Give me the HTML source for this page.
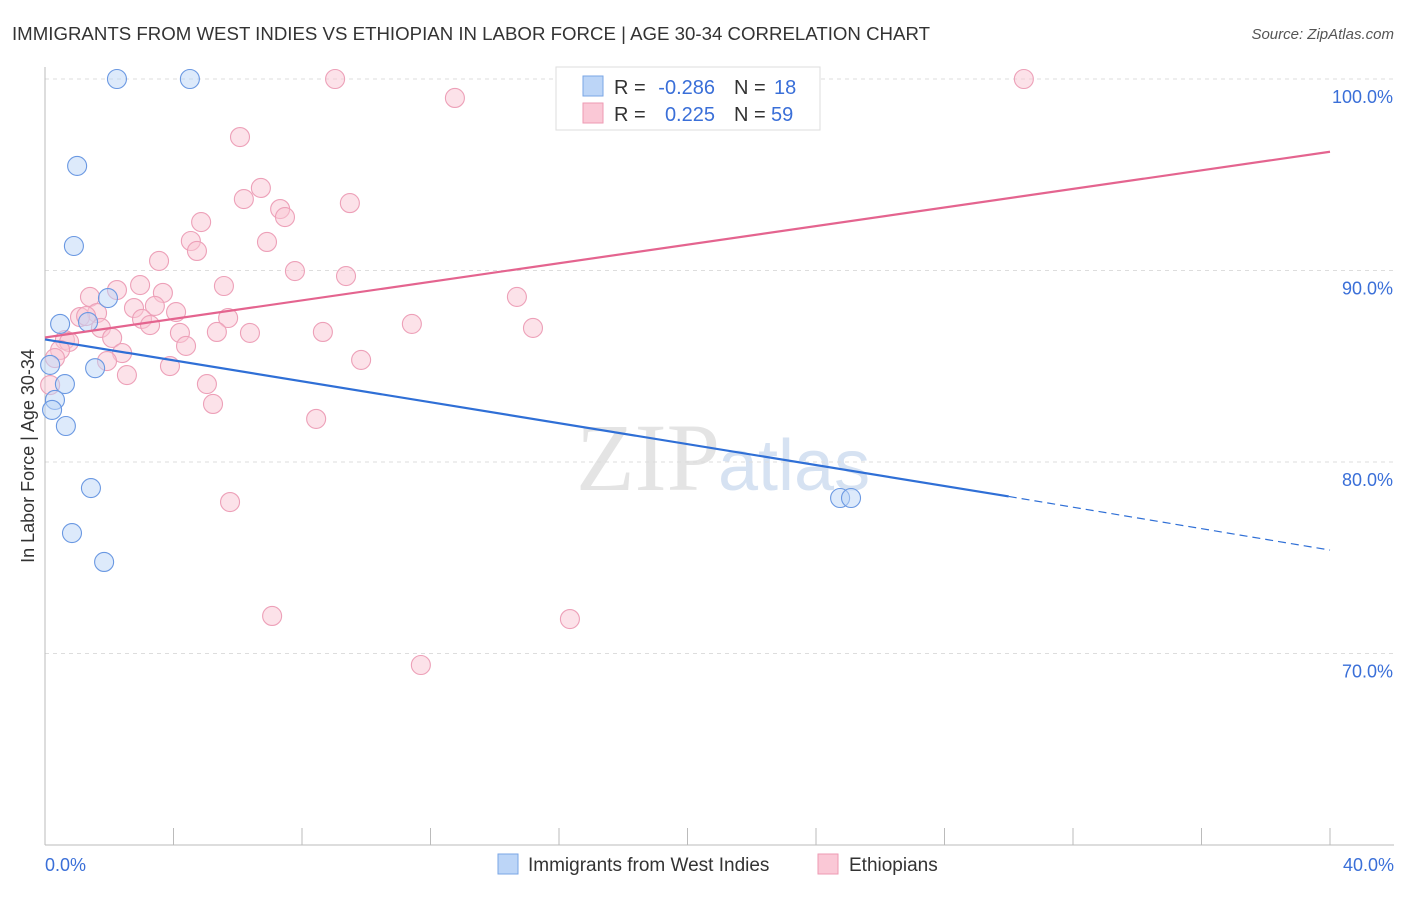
<!DOCTYPE html>
<html><head><meta charset="utf-8"><style>
body{margin:0;background:#fff;font-family:"Liberation Sans",sans-serif}
</style></head><body>
<svg width="1406" height="892" xmlns="http://www.w3.org/2000/svg" font-family="Liberation Sans, sans-serif">
<text x="12" y="40" font-size="18" fill="#333" textLength="918" lengthAdjust="spacingAndGlyphs">IMMIGRANTS FROM WEST INDIES VS ETHIOPIAN IN LABOR FORCE | AGE 30-34 CORRELATION CHART</text>
<text x="1394" y="39" font-size="15" fill="#555" text-anchor="end" font-style="italic">Source: ZipAtlas.com</text>
<text x="720" y="490" font-size="96" fill="#e4e4e4" text-anchor="end" font-family="Liberation Serif, serif">ZIP</text>
<text x="718" y="490" font-size="72" fill="#d6e2f2">atlas</text>
<g id="grid"></g><g id="axes"></g><g id="marks"></g>
<text x="34" y="456" font-size="18" fill="#333" text-anchor="middle" transform="rotate(-90 34 456)">In Labor Force | Age 30-34</text>
<g font-size="20">
<rect x="556" y="67" width="264" height="63" fill="#fff" stroke="#ddd"/>
<rect x="583" y="76" width="20" height="20" fill="#bcd5f7" stroke="#7aa6e6"/>
<rect x="583" y="103" width="20" height="20" fill="#fac8d6" stroke="#ee9ab3"/>
<text x="614" y="94" fill="#333">R =</text>
<text x="715" y="94" fill="#3a6fd8" text-anchor="end">-0.286</text>
<text x="734" y="94" fill="#333">N =</text>
<text x="774" y="94" fill="#3a6fd8">18</text>
<text x="614" y="121" fill="#333">R =</text>
<text x="715" y="121" fill="#3a6fd8" text-anchor="end">0.225</text>
<text x="734" y="121" fill="#333">N =</text>
<text x="771" y="121" fill="#3a6fd8">59</text>
</g>
<g>
<rect x="498" y="854" width="20" height="20" fill="#bcd5f7" stroke="#7aa6e6"/>
<text x="528" y="871" font-size="19" fill="#333">Immigrants from West Indies</text>
<rect x="818" y="854" width="20" height="20" fill="#fac8d6" stroke="#ee9ab3"/>
<text x="849" y="871" font-size="19" fill="#333">Ethiopians</text>
</g>
</svg>
<script>
const blueX=[2.24,4.51,1.0,0.9,1.96,0.47,1.34,1.56,0.16,0.62,0.31,0.22,0.65,1.43,0.84,1.84,24.75,25.09];
const blueY=[100,100,95.46,91.28,88.56,87.21,87.31,84.9,85.07,84.07,83.24,82.72,81.88,78.64,76.29,74.78,78.12,78.12];
const pinkX=[9.03,30.47,20.67,12.76,6.07,6.72,6.19,9.49,7.32,7.47,4.86,4.54,6.91,4.73,3.55,7.78,9.37,14.69,2.96,2.24,1.40,5.57,3.67,2.77,3.42,4.08,1.62,1.09,1.28,3.02,3.27,5.70,11.42,15.19,1.74,8.65,4.20,5.35,6.38,2.09,0.62,0.75,0.47,4.39,2.40,1.93,9.84,3.89,0.31,2.55,5.04,5.23,8.44,5.76,7.07,16.34,11.70,0.16];
const pinkY=[100,100,100,99.01,96.97,94.31,93.73,93.52,93.21,92.79,92.53,91.54,91.49,91.02,90.50,89.97,89.71,88.62,89.24,88.98,88.62,89.19,88.83,88.04,88.15,87.83,87.78,87.57,87.62,87.47,87.15,87.52,87.21,87.00,87.00,86.79,86.74,86.79,86.74,86.48,86.37,86.27,85.85,86.06,85.69,85.27,85.33,85.01,85.43,84.54,84.07,83.03,82.25,77.91,71.96,71.80,69.40,84.02];
const yTicks=[100,90,80,70];
const yTickLabels=["100.0%","90.0%","80.0%","70.0%"];
const xTickLabels=["0.0%","40.0%"];
const blueTrend=[[0,86.4],[30,78.2],[40,75.4]];
const pinkTrend=[[0,86.5],[40,96.2]];
const X=v=>45+v/40*1285, Y=v=>79+(100-v)*19.15;
const NS="http://www.w3.org/2000/svg";
function mk(t,a,p){const e=document.createElementNS(NS,t);for(const k in a)e.setAttribute(k,a[k]);p.appendChild(e);return e;}
const grid=document.getElementById('grid'),axes=document.getElementById('axes'),marks=document.getElementById('marks');
yTicks.forEach((t,i)=>{
 const l=mk('line',{x1:45,x2:1394,y1:Y(t),y2:Y(t),stroke:'#ddd','stroke-dasharray':'4,4'},grid);
 
 
 const tx=mk('text',{x:1393,y:Y(t)+24,'font-size':18,fill:'#3a6fd8','text-anchor':'end'},axes);
 tx.textContent=yTickLabels[i];
 
 
});
let a=mk('line',{x1:45,x2:45,y1:67,y2:845,stroke:'#bbb'},axes);


a=mk('line',{x1:45,x2:1394,y1:845,y2:845,stroke:'#bbb'},axes);


for(let i=1;i<=10;i++){const tk=mk('line',{x1:X(i*4),x2:X(i*4),y1:828,y2:845,stroke:'#bbb'},axes);
 
 }
[[45,'start',0],[1394,'end',1]].forEach(([x,an,i])=>{const t=mk('text',{x:x,y:871,'font-size':18,fill:'#3a6fd8','text-anchor':an},axes);t.textContent=xTickLabels[i];
 
 });
function dots(xs,ys,f,s,n){xs.forEach((x,i)=>{const c=mk('circle',{cx:X(x),cy:Y(ys[i]),r:9.5,fill:f,'fill-opacity':0.5,stroke:s,'stroke-width':1.1},marks);
 
 });}
dots(pinkX,pinkY,'#f9c5d4','#eda0b8','ethiopian-point');
dots(blueX,blueY,'#bcd5f7','#6a98e2','west-indies-point');
let l=mk('line',{x1:X(blueTrend[0][0]),y1:Y(blueTrend[0][1]),x2:X(blueTrend[1][0]),y2:Y(blueTrend[1][1]),stroke:'#2f6fd6','stroke-width':2.2},marks);


l=mk('line',{x1:X(blueTrend[1][0]),y1:Y(blueTrend[1][1]),x2:X(blueTrend[2][0]),y2:Y(blueTrend[2][1]),stroke:'#2f6fd6','stroke-width':1.2,'stroke-dasharray':'8,5'},marks);


l=mk('line',{x1:X(pinkTrend[0][0]),y1:Y(pinkTrend[0][1]),x2:X(pinkTrend[1][0]),y2:Y(pinkTrend[1][1]),stroke:'#e4648f','stroke-width':2.2},marks);


</script>
</body></html>
